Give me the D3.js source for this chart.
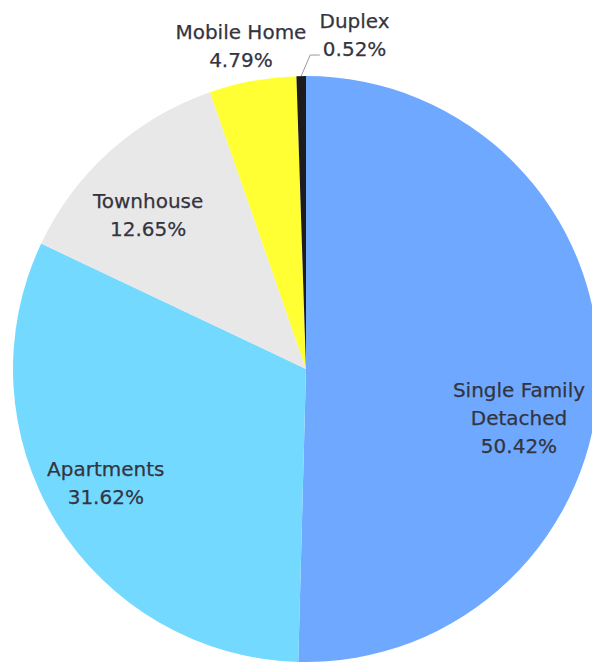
<!DOCTYPE html>
<html>
<head>
<meta charset="utf-8">
<script src="https://cdn.jsdelivr.net/npm/d3@7"></script>
<style>
  html, body { margin: 0; padding: 0; background: #fff; }
  svg { display: block; }
</style>
</head>
<body>
<svg id="grafico"></svg>
<script>
// dados do gráfico
const categorias = ['Single Family Detached', 'Apartments', 'Townhouse', 'Mobile Home', 'Duplex'];
const rotulos = [['Single Family', 'Detached'], ['Apartments'], ['Townhouse'], ['Mobile Home'], ['Duplex']];
const valores = [50.42, 31.62, 12.65, 4.79, 0.52];
const cores = ['#6ea8ff', '#74d9ff', '#e8e8e8', '#ffff33', '#1c1c1c'];

const largura = 592, altura = 663;
const cx = 306, cy = 369, raio = 293;

// ajustes finos de posição dos rótulos (relativos ao centróide)
const ajustes = {
  'Single Family Detached': [-22, 46],
  'Apartments': [0, -9],
  'Townhouse': [-1, 21],
  'Mobile Home': [-5, 1],
  'Duplex': [54, -4]
};

let svg = d3.select('#grafico')
  .attr('width', largura)
  .attr('height', altura);

let plotagem = svg.append('g')
  .attr('transform', `translate(${cx}, ${cy})`);

let pie = d3.pie().sort(null).value(d => d.valor);
let dados = categorias.map((c, i) => ({ nome: c, valor: valores[i], linhas: rotulos[i], cor: cores[i] }));
let arcos = pie(dados);

let arco = d3.arc().innerRadius(0).outerRadius(raio);
let arcoInterno = d3.arc().innerRadius(235).outerRadius(235);
let arcoExterno = d3.arc().innerRadius(330).outerRadius(330);
let arcoBorda = d3.arc().innerRadius(raio).outerRadius(raio);

// fatias
plotagem.selectAll('.fatia')
  .data(arcos)
  .enter()
  .append('path')
  .classed('fatia', true)
  .attr('d', arco)
  .attr('fill', d => d.data.cor);

const alturaLinha = 28;
const tamFonte = 20;

// rótulos
let grupos = plotagem.selectAll('.rotulo')
  .data(arcos)
  .enter()
  .append('text')
  .classed('rotulo', true)
  .style('font-family', '"DejaVu Sans", Verdana, sans-serif')
  .style('font-size', tamFonte + 'px')
  .style('fill', '#34343f')
  .style('stroke', '#34343f')
  .style('stroke-width', 0.25)
  .attr('text-anchor', 'middle')
  .each(function (d) {
    let fora = d.data.valor < 6;
    let c = fora ? arcoExterno.centroid(d) : arcoInterno.centroid(d);
    let aj = ajustes[d.data.nome] || [0, 0];
    let x = c[0] + aj[0], y = c[1] + aj[1];
    let linhas = d.data.linhas.concat([d3.format('.2f')(d.data.valor) + '%']);
    let n = linhas.length;
    let t = d3.select(this);
    linhas.forEach((l, i) => {
      t.append('tspan')
        .attr('x', x)
        .attr('y', y + (i - (n - 1) / 2) * alturaLinha + 7)
        .text(l);
    });
    d.posRotulo = [x, y, n];
  });

// linha guia para a fatia muito pequena
arcos.filter(d => d.data.nome === 'Duplex').forEach(d => {
  let p0 = arcoBorda.centroid(d);
  let p1 = [p0[0] + 9, p0[1] - 21];
  let texto = grupos.filter(g => g === d).selectAll('tspan').nodes();
  let larguraTexto = texto[texto.length - 1].getComputedTextLength();
  let p2 = [d.posRotulo[0] - larguraTexto / 2 - 3, p1[1]];
  plotagem.append('path')
    .attr('d', d3.line()([p0, p1, p2]))
    .attr('fill', 'none')
    .attr('stroke', '#9a9a9a')
    .attr('stroke-width', 1);
});
</script>
</body>
</html>
